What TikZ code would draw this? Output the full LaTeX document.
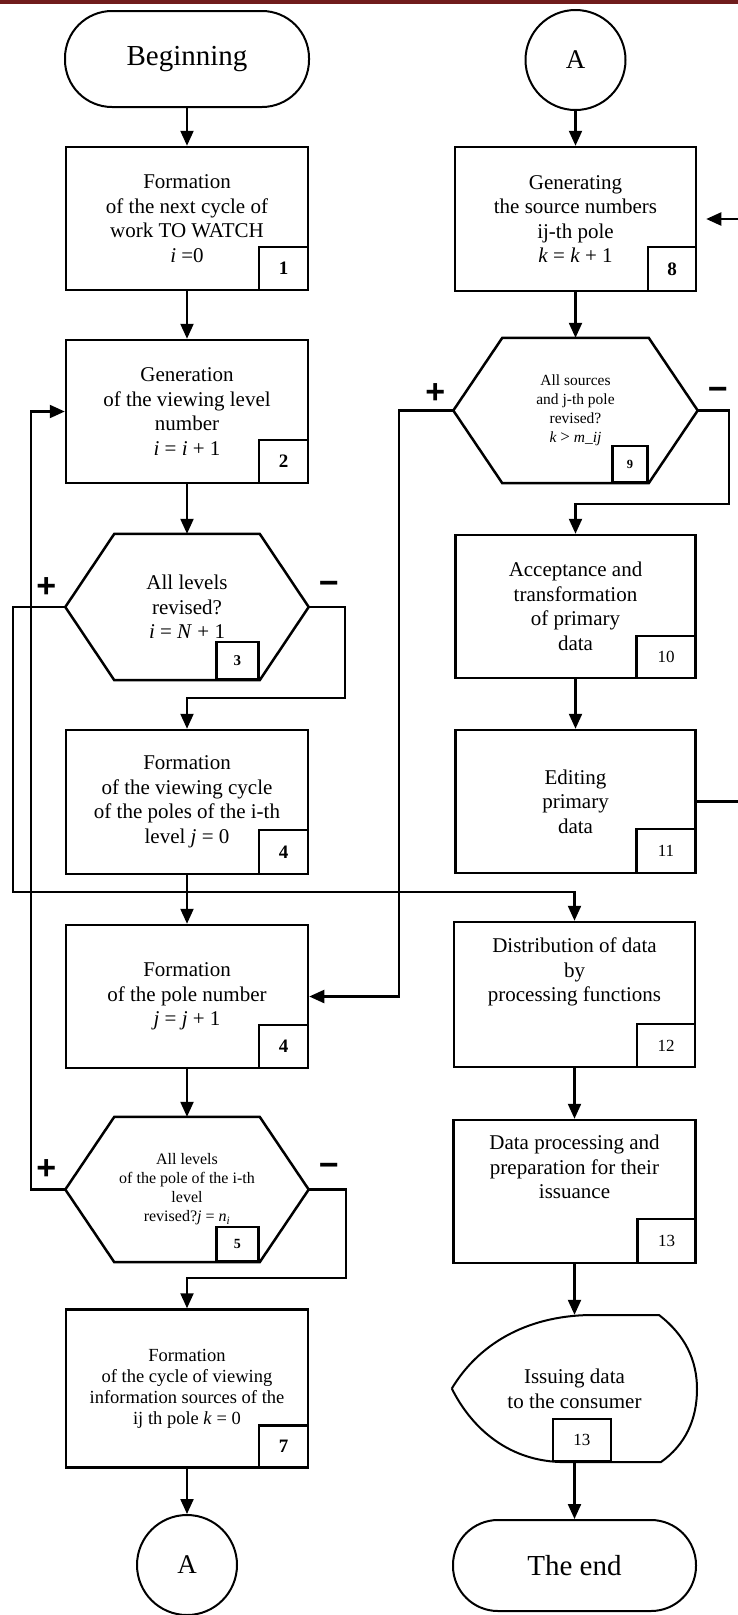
\documentclass[tikz,border=0pt]{standalone}
\usepackage{fontspec}
\setmainfont{Liberation Serif}
\setsansfont{Liberation Sans}
\usepackage{tikz}
\usetikzlibrary{arrows.meta,calc}
\definecolor{barred}{RGB}{112,28,28}
\newcommand\vv[1]{\textit{#1}}
\tikzset{
  proc/.style={draw, line width=2.5pt, minimum width=242pt, minimum height=143pt, align=center, inner sep=2pt, font=\fontsize{21}{24.5}\selectfont},
  term/.style={draw, line width=2pt, minimum width=244pt, minimum height=96pt, rounded corners=47pt, font=\fontsize{29}{32}\selectfont},
  conn/.style={draw, circle, line width=2pt, minimum size=100pt, inner sep=0pt, font=\fontsize{27}{30}\selectfont},
  dec/.style={minimum width=244pt, minimum height=146pt, align=center, inner sep=0pt, font=\fontsize{21}{24.5}\selectfont},
  nb/.style={draw, line width=2.5pt, anchor=south east, minimum width=49pt, minimum height=43pt, inner sep=0pt, font=\fontsize{19}{20}\selectfont\bfseries},
  nbs/.style={nb, minimum width=58pt, font=\fontsize{17}{18}\selectfont},
  pm/.style={inner sep=0pt, font=\fontsize{34}{34}\selectfont\sffamily\bfseries},
  bd/.style={line width=2.5pt, line join=miter},
  fl/.style={-{Triangle[length=15pt,width=13pt]}, line width=2.2pt},
}
\begin{document}
\begin{tikzpicture}[x=1pt, y=-1pt]
\useasboundingbox (0,0) rectangle (738,1615);
\fill[barred] (0,0) rectangle (738,3.5);
% left column
\node[term] (beg) at (187,59) {Beginning};
\node[proc] (b1) at (187,218.5) {Formation\\of the next cycle of\\work TO WATCH\\\vv{i} =0};
\node[nb] (n1) at (b1.south east) {1};
\node[proc] (b2) at (187,411.5) {Generation\\of the viewing level\\number\\\vv{i} = \vv{i} + 1};
\node[nb] (n2) at (b2.south east) {2};
\node[dec, minimum width=243pt] (d3) at (187,607) {All levels\\revised?\\\vv{i} = \vv{N} + 1};
\node[nb, minimum width=42pt, minimum height=37pt, font=\fontsize{15}{16}\selectfont\bfseries] (n3) at ($(d3.south east)+(-49,0)$) {3};
\node[proc, minimum height=144pt] (b4) at (187,802) {Formation\\of the viewing cycle\\of the poles of the i-th\\level \vv{j} = 0};
\node[nb, minimum height=44pt] (n4) at (b4.south east) {4};
\node[proc] (b6) at (187,996.5) {Formation\\of the pole number\\\vv{j} = \vv{j} + 1};
\node[nb] (n6) at (b6.south east) {4};
\node[dec, minimum width=243pt, minimum height=145pt, font=\fontsize{16}{19}\selectfont] (d5) at (187,1189.5) {All levels\\of the pole of the i-th\\level\\revised?\vv{j} = \vv{n\textsubscript{i}}};
\node[nb, minimum width=42pt, minimum height=34pt, font=\fontsize{14}{15}\selectfont\bfseries] (n5) at ($(d5.south east)+(-49,0)$) {5};
\node[proc, minimum height=158pt, font=\fontsize{18.5}{21}\selectfont] (b7) at (187,1388.5) {Formation\\of the cycle of viewing\\information sources of the\\ij th pole \vv{k} = 0};
\node[nb, minimum height=42pt] (n7) at (b7.south east) {7};
\node[conn] (cA) at (187,1565) {A};
% right column
\node[conn] (cB) at (575.5,60) {A};
\node[proc, minimum width=241pt, minimum height=144pt] (b8) at (575.5,219) {Generating\\the source numbers\\ij-th pole\\\vv{k} = \vv{k} + 1};
\node[nb, minimum width=48pt, minimum height=44pt] (n8) at (b8.south east) {8};
\node[dec, minimum height=145pt, font=\fontsize{15.5}{19}\selectfont] (d9) at (575.5,410.5) {All sources\\and j-th pole\\revised?\\\vv{k} {\fontsize{17}{19}\selectfont >} \vv{m\_ij}};
\node[nb, minimum width=35pt, minimum height=36pt, font=\fontsize{12.5}{13}\selectfont\bfseries] (n9) at ($(d9.south east)+(-49,0)$) {9};
\node[proc, minimum width=240pt] (b10) at (575.5,606.5) {Acceptance and\\transformation\\of primary\\data};
\node[nbs, minimum width=59pt, minimum height=42pt] (n10) at (b10.south east) {10};
\node[proc, minimum width=240pt] (b11) at (575.5,801.5) {Editing\\primary\\data};
\node[nbs, minimum width=59pt, minimum height=44pt] (n11) at (b11.south east) {11};
\node[proc, minimum width=241pt, minimum height=145pt] (b12) at (574.5,994.5) {Distribution of data\\by\\processing functions\\~\\~};
\node[nbs] (n12) at (b12.south east) {12};
\node[proc] (b13) at (574.5,1191.5) {Data processing and\\preparation for their\\issuance\\~\\~};
\node[nbs, minimum height=44pt] (n13) at (b13.south east) {13};
\node[dec, minimum width=245pt, minimum height=147pt, font=\fontsize{21}{25}\selectfont] (disp) at (574.5,1388.5) {Issuing data\\to the consumer};
\draw[line width=2pt] (disp.west) .. controls (478,1345) and (525,1316) .. (590,1315) -- (659,1315)
  .. controls (685,1335) and (697,1360) .. (697,1389) .. controls (697,1420) and (685,1445) .. (661,1462)
  -- (560,1462) .. controls (505,1460) and (470,1425) .. (disp.west);
\node[nbs, minimum height=42pt] (n14) at ($(disp.south)+(37.5,0)$) {13};
\node[term, minimum width=243pt, minimum height=91pt, rounded corners=45pt] (fin) at (574.5,1565.5) {The end};
% hexagon outlines
\foreach \h in {d3,d5,d9}
  \draw[bd] (\h.west) -- ($(\h.north west)+(49,0)$) -- ($(\h.north east)+(-49,0)$) -- (\h.east)
    -- ($(\h.south east)+(-49,0)$) -- ($(\h.south west)+(49,0)$) -- cycle;
% signs
\node[pm] (p3) at ($(d3.west)+(-19,-19)$) {+};
\node[pm] (m3) at ($(d3.east)+(20,-19)$) {−};
\node[pm] (p5) at ($(d5.west)+(-19,-20)$) {+};
\node[pm] (m5) at ($(d5.east)+(20,-20)$) {−};
\node[pm] (p9) at ($(d9.west)+(-18,-17)$) {+};
\node[pm] (m9) at ($(d9.east)+(20,-17)$) {−};
% flow
\draw[fl] (beg) -- (b1);
\draw[fl] (b1) -- (b2);
\draw[fl] (b2) -- (d3);
\draw[fl] (d3.east) -- ++(36,0) |- ($(b4.north)+(0,-31)$) -- (b4.north);
\draw[fl] (d3.west) -- ++(-52,0) |- ($(b12.north)+(0,-29)$) -- (b12.north);
\draw[fl] (b4) -- (b6);
\draw[fl] (b6) -- (d5);
\draw[fl] (d5.west) -- ++(-34,0) |- (b2.west);
\draw[fl] (d5.east) -- ++(37,0) |- ($(b7.north)+(0,-30)$) -- (b7.north);
\draw[fl] (b7) -- (cA);
\draw[fl] (cB) -- (b8);
\draw[fl] (b8) -- (d9);
\draw[fl] (d9.west) -- ++(-54,0) |- (b6.east);
\draw[fl] (d9.east) -- ++(31,0) |- ($(b10.north)+(0,-30)$) -- (b10.north);
\draw[fl] (b10) -- (b11);
\draw[fl, shorten >=9pt] (b11.east) -- ++(45,0) |- (b8.east);
\draw[fl] (b12) -- (b13);
\draw[fl] (b13) -- (disp);
\draw[fl] (disp) -- (fin);
\end{tikzpicture}
\end{document}
